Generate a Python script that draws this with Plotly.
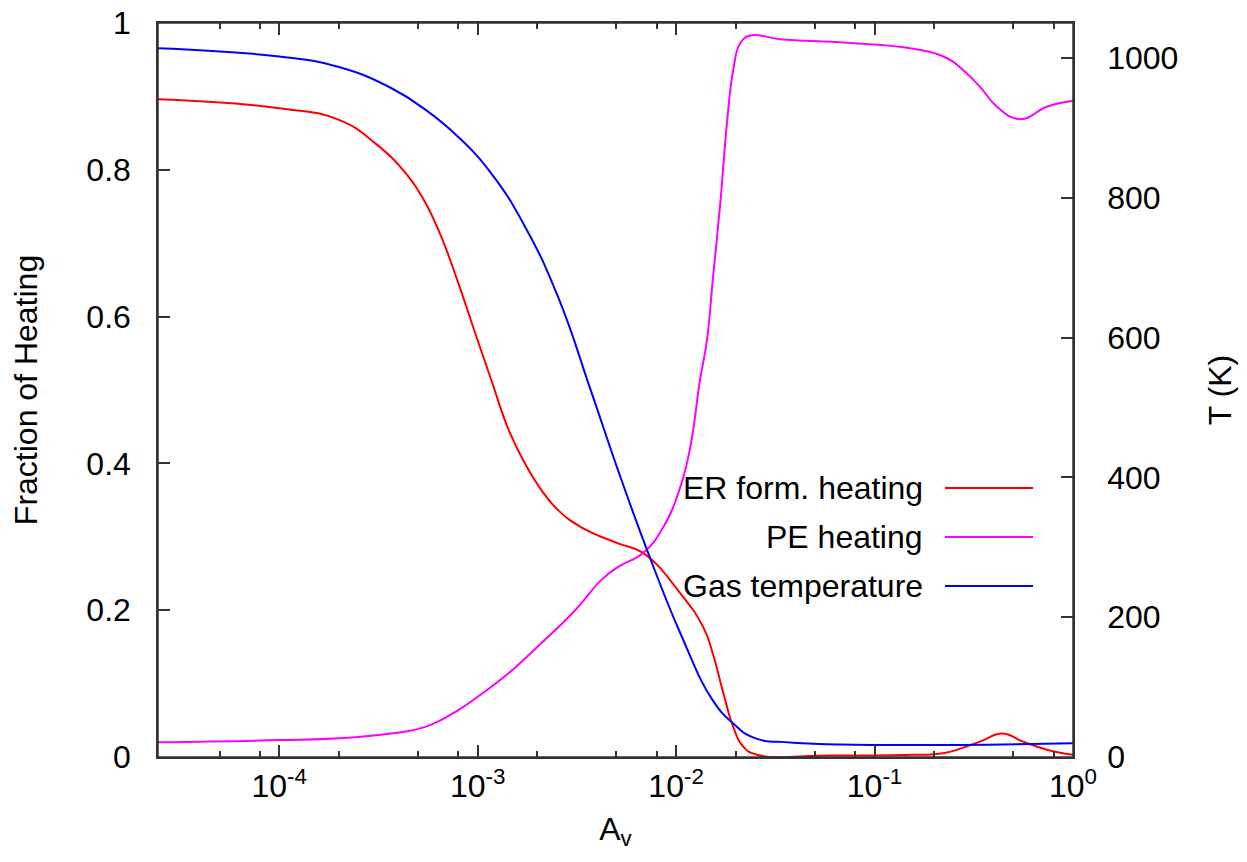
import plotly.graph_objects as go

# ---- data ----
av_er = [2.45e-5, 1.0e-4, 2.0e-4, 3.05e-4, 4.47e-4, 5.45e-4, 6.55e-4, 7.98e-4, 9.7e-4,
         1.17e-3, 1.43e-3, 1.73e-3, 2.09e-3, 2.55e-3, 3.33e-3, 5.1e-3, 6.82e-3, 1.05e-2,
         1.37e-2, 1.53e-2, 1.73e-2, 1.94e-2, 2.18e-2, 2.56e-2, 6.0e-2, 0.156, 0.221, 0.340,
         0.439, 0.560, 0.740, 1.0]
er_heating = [0.896, 0.884, 0.868, 0.836, 0.791, 0.755, 0.709, 0.646, 0.578,
              0.514, 0.446, 0.400, 0.364, 0.336, 0.313, 0.291, 0.278, 0.223,
              0.177, 0.141, 0.087, 0.041, 0.014, 0.003, 0.002, 0.003, 0.005, 0.021,
              0.032, 0.021, 0.010, 0.003]

av_pe = [2.45e-5, 1.0e-4, 2.0e-4, 3.66e-4, 5.45e-4, 7.98e-4, 1.0e-3, 1.43e-3, 2.09e-3,
         3.1e-3, 4.19e-3, 5.1e-3, 6.82e-3, 8.61e-3, 1.05e-2, 1.18e-2, 1.32e-2, 1.43e-2,
         1.53e-2, 1.67e-2, 1.81e-2, 1.94e-2, 2.1e-2, 2.36e-2, 3.34e-2, 7.26e-2, 0.156,
         0.232, 0.279, 0.340, 0.414, 0.541, 0.740, 1.0]
pe_heating = [0.020, 0.023, 0.0255, 0.032, 0.041, 0.064, 0.082, 0.114, 0.155,
              0.200, 0.241, 0.259, 0.278, 0.313, 0.368, 0.423, 0.514, 0.568,
              0.650, 0.755, 0.868, 0.936, 0.972, 0.983, 0.978, 0.973, 0.965,
              0.952, 0.936, 0.913, 0.886, 0.869, 0.886, 0.894]

av_t = [2.45e-5, 1.0e-4, 2.0e-4, 3.66e-4, 5.45e-4, 7.98e-4, 1.17e-3, 1.73e-3, 2.55e-3,
        3.73e-3, 5.1e-3, 7.14e-3, 1.05e-2, 1.53e-2, 1.94e-2, 2.44e-2, 3.88e-2, 1.0]
gas_temp = [1014, 1002, 987, 957, 926, 887, 835, 759, 657,
            523, 410, 296, 177, 81, 48, 28, 20.5, 19.6]

x_major = [1e-4, 1e-3, 1e-2, 1e-1, 1]
x_major_text = ["10<sup>-4</sup>", "10<sup>-3</sup>", "10<sup>-2</sup>", "10<sup>-1</sup>", "10<sup>0</sup>"]
x_minor = [5e-5, 8e-5, 2e-4, 5e-4, 8e-4, 2e-3, 5e-3, 8e-3, 2e-2, 5e-2, 8e-2, 0.2, 0.5, 0.8]
y_ticks = [0, 0.2, 0.4, 0.6, 0.8, 1]
y2_ticks = [0, 200, 400, 600, 800, 1000]

series_names = ["ER form. heating", "PE heating", "Gas temperature"]
series_colors = ["#ff0000", "#ff00ff", "#0000ff"]

FONT = "Liberation Sans, Arial, sans-serif"
FS = 32
SMOOTH = 1.3

fig = go.Figure()
fig.add_trace(go.Scatter(x=av_er, y=er_heating, mode="lines", name=series_names[0],
                         line=dict(color=series_colors[0], width=2, shape="spline", smoothing=SMOOTH),
                         showlegend=False))
fig.add_trace(go.Scatter(x=av_pe, y=pe_heating, mode="lines", name=series_names[1],
                         line=dict(color=series_colors[1], width=2, shape="spline", smoothing=SMOOTH),
                         showlegend=False))
fig.add_trace(go.Scatter(x=av_t, y=gas_temp, mode="lines", name=series_names[2], yaxis="y2",
                         line=dict(color=series_colors[2], width=2, shape="spline", smoothing=SMOOTH),
                         showlegend=False))

axis_line = "#333333"

# plot frame
fig.add_shape(type="rect", xref="paper", yref="paper", x0=0, x1=1, y0=0, y1=1,
              line=dict(color=axis_line, width=1.5), layer="above")

# custom legend (text left, sample line right, as in the reference)
leg_y = [0.3665, 0.2997, 0.233]
for name, col, yy in zip(series_names, series_colors, leg_y):
    fig.add_annotation(xref="paper", yref="paper", x=0.8383, y=yy, text=name,
                       showarrow=False, xanchor="right", yanchor="middle",
                       font=dict(family=FONT, size=FS, color="black"))
    fig.add_shape(type="line", xref="paper", yref="paper", x0=0.8601, x1=0.9563,
                  y0=yy, y1=yy, line=dict(color=col, width=2))

fig.update_layout(
    width=1239, height=854,
    margin=dict(l=150, r=174, t=15, b=105, autoexpand=False),
    plot_bgcolor="white", paper_bgcolor="white",
    font=dict(family=FONT, size=FS, color="black"),
    xaxis=dict(type="log", range=[-4.611, 0], showgrid=False, zeroline=False, automargin=False,
               showline=True, linecolor=axis_line, linewidth=1.5, mirror="ticks",
               ticks="inside", ticklen=12, tickwidth=1.5, tickcolor=axis_line,
               tickvals=x_major, ticktext=x_major_text, ticklabeloverflow="allow",
               minor=dict(tickvals=x_minor, ticks="inside", ticklen=6, tickwidth=1.5,
                          tickcolor=axis_line, showgrid=False),
               title=dict(text="A<sub>v</sub>", standoff=14,
                          font=dict(family=FONT, size=FS))),
    yaxis=dict(range=[0, 1], showgrid=False, zeroline=False, automargin=False,
               showline=True, linecolor=axis_line, linewidth=1.5,
               ticks="inside", ticklen=12, tickwidth=1.5, tickcolor=axis_line,
               tickvals=y_ticks, ticklabelstandoff=19, ticklabeloverflow="allow",
               title=dict(text="Fraction of Heating", standoff=40,
                          font=dict(family=FONT, size=FS))),
    yaxis2=dict(range=[0, 1050], overlaying="y", side="right", showgrid=False, zeroline=False,
                automargin=False,
                showline=True, linecolor=axis_line, linewidth=1.5,
                ticks="inside", ticklen=12, tickwidth=1.5, tickcolor=axis_line,
                tickvals=y2_ticks, ticklabelstandoff=26, ticklabeloverflow="allow",
                title=dict(text="T (K)", standoff=31,
                           font=dict(family=FONT, size=FS))),
)

fig.write_html("out.html")
